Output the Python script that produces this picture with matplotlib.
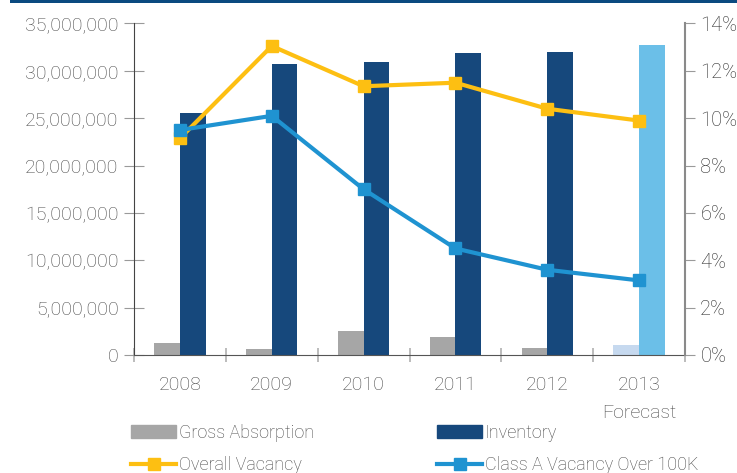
import matplotlib
matplotlib.use("Agg")
from matplotlib import pyplot as plt
from matplotlib.patches import Patch, Rectangle
from matplotlib.lines import Line2D
from matplotlib.ticker import FuncFormatter, FixedLocator
import numpy as np

years = ["2008", "2009", "2010", "2011", "2012", "2013\nForecast"]
gross_absorption = [1250000, 620000, 2500000, 1900000, 750000, 1050000]
inventory = [25600000, 30750000, 30900000, 31900000, 32000000, 32700000]
overall_vacancy = [9.15, 13.05, 11.35, 11.5, 10.4, 9.9]
class_a_vacancy = [9.5, 10.1, 7.0, 4.5, 3.6, 3.15]

grey = "#a6a6a6"
navy = "#16487c"
grey_fc = "#c6d9ef"
navy_fc = "#6bbfe8"
yellow = "#fdbf12"
blue = "#1f93d1"
txt = "#474747"

plt.rcParams["font.family"] = ["Roboto", "DejaVu Sans"]
plt.rcParams["font.weight"] = "light"

fig = plt.figure(figsize=(7.37, 4.73), dpi=100)
ax = fig.add_axes([134 / 737, 1 - 355 / 473, (685 - 134) / 737, (355 - 23.5) / 473])

x = np.arange(len(years))
w = 0.28
g_cols = [grey] * 5 + [grey_fc]
i_cols = [navy] * 5 + [navy_fc]
ax.bar(x - w / 2, gross_absorption, w, color=g_cols, zorder=2)
ax.bar(x + w / 2, inventory, w, color=i_cols, zorder=2)

ax.set_xlim(-0.5, 5.5)
ax.set_ylim(0, 35000000)
ax.set_yticks(np.arange(0, 35000001, 5000000))
ax.yaxis.set_major_formatter(FuncFormatter(lambda v, p: f"{int(v):,}"))
ax.set_xticks(x)
ax.set_xticklabels(years, linespacing=1.7)
ax.xaxis.set_minor_locator(FixedLocator(np.arange(-0.5, 6, 1)))
ax.tick_params(axis="x", which="major", length=0, pad=15, labelsize=14, labelcolor=txt)
ax.tick_params(axis="x", which="minor", length=10, direction="inout", color="#b0b0b0", width=1.2)
ax.tick_params(axis="y", direction="inout", length=14, color="#9a9a9a", labelsize=14,
               labelcolor=txt, pad=4)
ax.spines["top"].set_visible(False)
ax.spines["right"].set_visible(False)
ax.spines["left"].set_color("#444444")
ax.spines["bottom"].set_color("#555555")

ax2 = ax.twinx()
ax2.plot(x, overall_vacancy, color=yellow, lw=3, marker="s", ms=8, zorder=3)
ax2.plot(x, class_a_vacancy, color=blue, lw=3, marker="s", ms=8, zorder=4)
ax2.set_ylim(0, 14)
ax2.set_yticks(np.arange(0, 15, 2))
ax2.yaxis.set_major_formatter(FuncFormatter(lambda v, p: f"{int(v)}%"))
ax2.tick_params(axis="y", direction="out", length=7, color="#9a9a9a", labelsize=14.5,
                labelcolor="#2a2a2a", pad=4)
for s in ["top", "left", "bottom"]:
    ax2.spines[s].set_visible(False)
ax2.spines["right"].set_color("#8a8a8a")
ax2.spines["right"].set_linewidth(1.5)

# dark band along the top edge
fig.add_artist(Rectangle((10 / 737, 1 - 3 / 473), 1, 3 / 473, transform=fig.transFigure,
                         color="#0b4a80", lw=0))

h1 = [Patch(color=grey), Line2D([], [], color=yellow, lw=3, marker="s", ms=8)]
h2 = [Patch(color=navy), Line2D([], [], color=blue, lw=3, marker="s", ms=8)]
kw = dict(frameon=False, loc="upper left", borderpad=0, borderaxespad=0, fontsize=13,
          handlelength=2.5, handletextpad=0.15, labelspacing=0.8, labelcolor=txt)
fig.legend(h1, ["Gross Absorption", "Overall Vacancy"],
           bbox_to_anchor=(131 / 737, 1 - 424 / 473), **kw)
fig.legend(h2, ["Inventory", "Class A Vacancy Over 100K"],
           bbox_to_anchor=(437 / 737, 1 - 424 / 473), **kw)

fig.savefig("out.png", dpi=100)
